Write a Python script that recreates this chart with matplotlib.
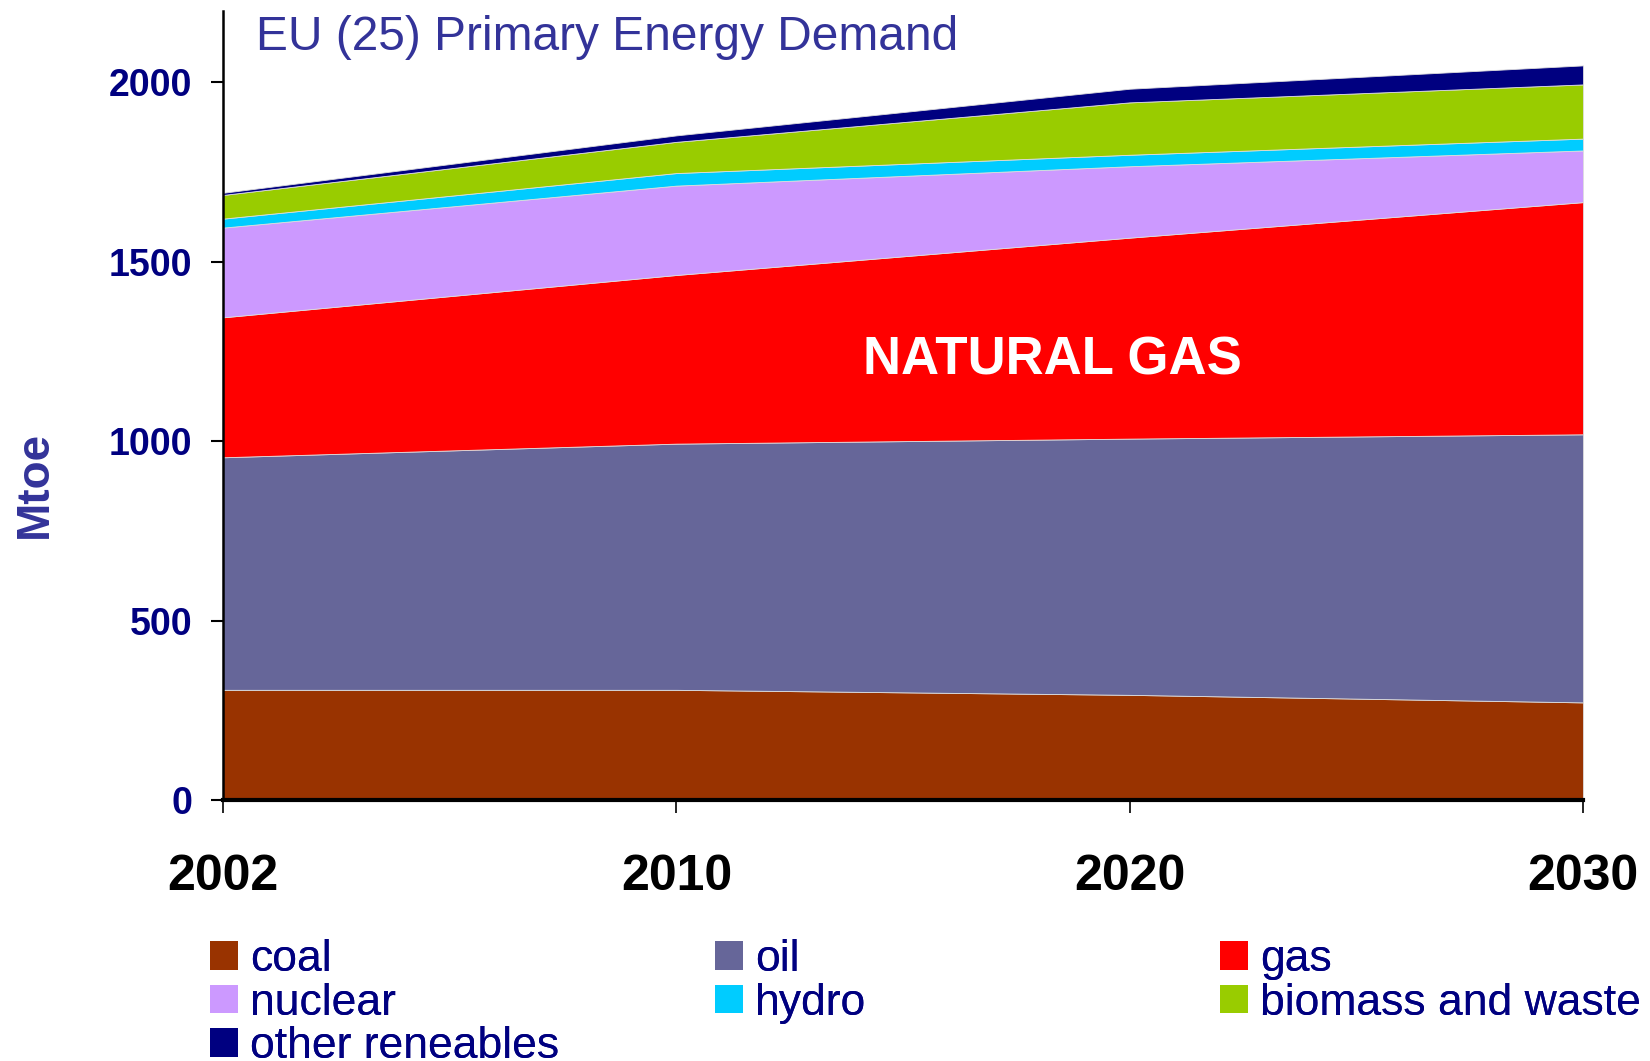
import matplotlib
matplotlib.use("Agg")
import matplotlib.pyplot as plt
from matplotlib.patches import Patch
import numpy as np

plt.rcParams['font.family'] = ['Liberation Sans', 'DejaVu Sans']

years = ["2002", "2010", "2020", "2030"]
series_names = ["coal", "oil", "gas", "nuclear", "hydro", "biomass and waste", "other reneables"]
coal = [307, 307, 293, 272]
oil = [648, 686, 714, 747]
gas = [390, 470, 560, 647]
nuclear = [250, 249, 199, 144]
hydro = [25, 35, 32, 33]
biomass = [66, 87, 146, 151]
other = [6, 18, 38, 53]
colors = ["#993300", "#666699", "#FF0000", "#CC99FF", "#00CCFF", "#99CC00", "#000080"]
y_ticks = [0, 500, 1000, 1500, 2000]

fig = plt.figure(figsize=(16.5, 10.61), dpi=100)
ax = fig.add_axes([223/1650, 1 - 800/1061, (1583-223)/1650, (800-10.5)/1061])

x = np.arange(len(years))
ax.stackplot(x, coal, oil, gas, nuclear, hydro, biomass, other,
             colors=colors, labels=series_names, linewidth=0.6, edgecolor='#dddddd')

ax.set_xlim(0, 3)
ax.set_ylim(0, 2200)
ax.set_xticks(x)
ax.set_xticklabels(years, fontsize=36, fontweight='bold', color='black')
ax.set_yticks(y_ticks)
ax.set_yticklabels([str(v) for v in y_ticks], fontsize=27, fontweight='bold', color='#000080')
ax.tick_params(axis='x', direction='out', length=9, width=1.2, pad=30)
ax.tick_params(axis='y', direction='out', length=9, width=1.5, pad=13)
for s in ['top', 'right']:
    ax.spines[s].set_visible(False)
ax.spines['left'].set_linewidth(1.8)
ax.spines['bottom'].set_linewidth(3)
ax.spines['left'].set_zorder(5)
ax.spines['bottom'].set_zorder(5)

ax.text(1.83, 1224, "NATURAL GAS", color='white', fontsize=38, fontweight='bold',
        ha='center', va='center')

fig.text(256/1650, 1 - 49.5/1061, "EU (25) Primary Energy Demand", color='#333399',
         fontsize=34.5, ha='left', va='baseline')
fig.text(35/1650, 1 - 484/1061, "Mtoe", color='#333399', fontsize=33, fontweight='bold',
         rotation=90, ha='center', va='center')

handles = [Patch(facecolor=c, edgecolor='none') for c in colors]
cols = [[0, 3, 6], [1, 4], [2, 5]]
col_x = [206, 686, 1166]
for ci, idx in enumerate(cols):
    leg = fig.legend([handles[i] for i in idx], [series_names[i] for i in idx],
                     loc='upper left',
                     bbox_to_anchor=(col_x[ci]*1.0523/1650 - 0.004, 1 - 939/1061),
                     frameon=False, fontsize=32, handlelength=0.62, handleheight=0.62,
                     handletextpad=0.28, labelspacing=0.06, borderpad=0, borderaxespad=0,
                     labelcolor='#000080')
    fig.add_artist(leg)

fig.savefig("out.png", dpi=100)
